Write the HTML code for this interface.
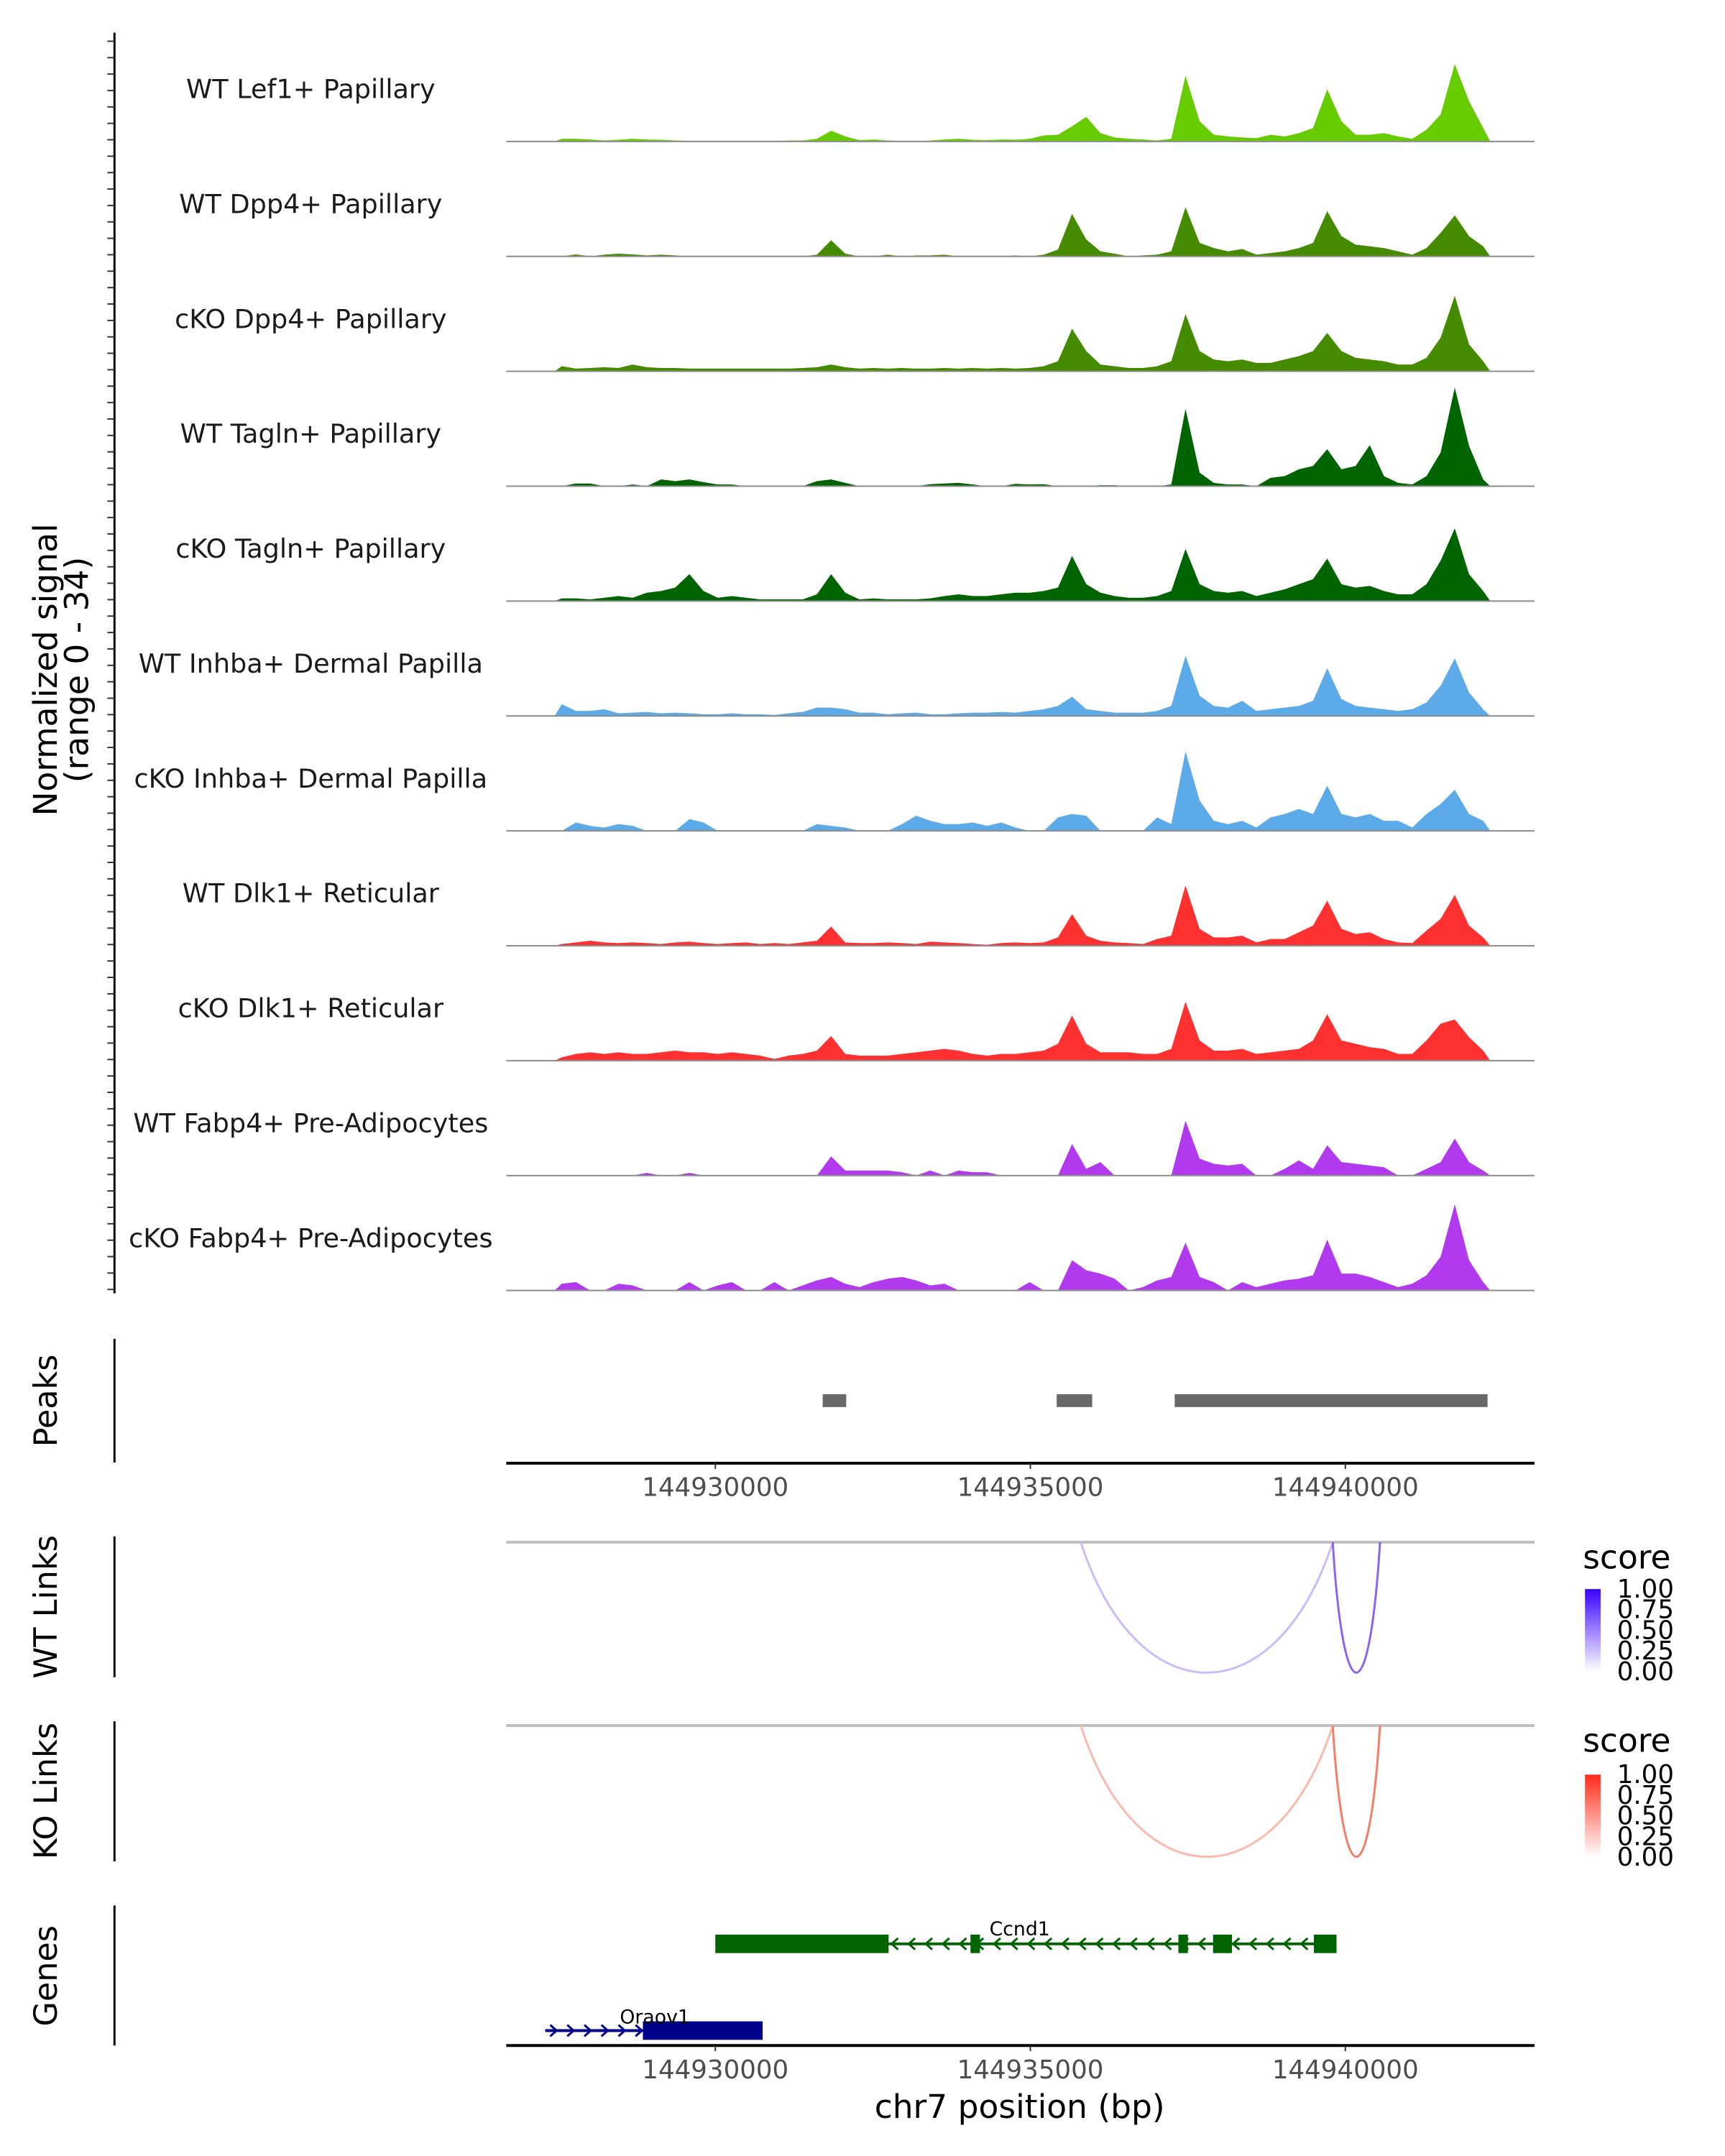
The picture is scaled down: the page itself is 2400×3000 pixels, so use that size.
<!DOCTYPE html>
<html><head><meta charset="utf-8"><style>
html,body{margin:0;padding:0;background:#fff}
svg{display:block}
text{font-family:"DejaVu Sans","Liberation Sans",sans-serif}
</style></head><body>
<svg id="chart" width="2400" height="3000" viewBox="0 0 2400 3000" xmlns="http://www.w3.org/2000/svg">
<g transform="scale(0.98932)">
<g id="tracks"></g>
<line x1="161" y1="46" x2="161" y2="1819" stroke="#000" stroke-width="3"/>
<g id="yticks"></g>
<text transform="translate(80,942) rotate(-90)" text-anchor="middle" font-size="46" fill="#000">Normalized signal</text>
<text transform="translate(124,942) rotate(-90)" text-anchor="middle" font-size="46" fill="#000">(range 0 - 34)</text>

<line x1="161" y1="1883" x2="161" y2="2057" stroke="#000" stroke-width="3"/>
<text transform="translate(80,1970) rotate(-90)" text-anchor="middle" font-size="45">Peaks</text>
<g id="peaks"></g>
<line x1="712" y1="2058" x2="2158" y2="2058" stroke="#000" stroke-width="4"/>
<g id="xt1"></g>

<line x1="161" y1="2161" x2="161" y2="2359" stroke="#000" stroke-width="3"/>
<text transform="translate(80,2260) rotate(-90)" text-anchor="middle" font-size="45">WT Links</text>
<line x1="712" y1="2169" x2="2158" y2="2169" stroke="#bebebe" stroke-width="4"/>
<g id="wtlinks"></g>

<line x1="161" y1="2421" x2="161" y2="2618" stroke="#000" stroke-width="3"/>
<text transform="translate(80,2519) rotate(-90)" text-anchor="middle" font-size="45">KO Links</text>
<line x1="712" y1="2427" x2="2158" y2="2427" stroke="#bebebe" stroke-width="4"/>
<g id="kolinks"></g>

<defs>
<linearGradient id="gwt" x1="0" y1="1" x2="0" y2="0"><stop offset="0" stop-color="#ffffff"/><stop offset="1" stop-color="#3a00ff"/></linearGradient>
<linearGradient id="gko" x1="0" y1="1" x2="0" y2="0"><stop offset="0" stop-color="#ffffff"/><stop offset="1" stop-color="#ff2a1a"/></linearGradient>
</defs>
<g>
<text x="2226" y="2206" font-size="46">score</text>
<rect x="2229" y="2235" width="22" height="116" fill="url(#gwt)"/>
<g font-size="36" fill="#000"><text x="2274" y="2247">1.00</text><text x="2274" y="2276">0.75</text><text x="2274" y="2305">0.50</text><text x="2274" y="2334">0.25</text><text x="2274" y="2363">0.00</text></g>
</g>
<g>
<text x="2226" y="2464" font-size="46">score</text>
<rect x="2229" y="2496" width="22" height="116" fill="url(#gko)"/>
<g font-size="36" fill="#000"><text x="2274" y="2508">1.00</text><text x="2274" y="2537">0.75</text><text x="2274" y="2566">0.50</text><text x="2274" y="2595">0.25</text><text x="2274" y="2624">0.00</text></g>
</g>

<line x1="161" y1="2680" x2="161" y2="2877" stroke="#000" stroke-width="3"/>
<text transform="translate(80,2779) rotate(-90)" text-anchor="middle" font-size="45">Genes</text>
<g id="genes"></g>
<line x1="712" y1="2877" x2="2158" y2="2877" stroke="#000" stroke-width="4"/>
<g id="xt2"></g>
<text x="1434" y="2979" text-anchor="middle" font-size="46">chr7 position (bp)</text>
</g>
</svg>
<script>
const trackNames = ["WT Lef1+ Papillary","WT Dpp4+ Papillary","cKO Dpp4+ Papillary","WT Tagln+ Papillary","cKO Tagln+ Papillary","WT Inhba+ Dermal Papilla","cKO Inhba+ Dermal Papilla","WT Dlk1+ Reticular","cKO Dlk1+ Reticular","WT Fabp4+ Pre-Adipocytes","cKO Fabp4+ Pre-Adipocytes"];
const trackColors = ["#66cc00","#458b00","#458b00","#006400","#006400","#5caae8","#5caae8","#ff3030","#ff3030","#b23aee","#b23aee"];
const binStart = 144927450;
const binSize = 225;
const sigLef1 = [0.8,0.8,0.6,0.3,0.5,0.8,0.6,0.5,0.3,0.2, 0.2,0.1,0,0,0,0.2,0.3,0.3,0.8,3.2, 1.5,0.4,0.6,0.3,0.2,0,0.3,0.6,0.8,0.5, 0.4,0.6,0.5,0.8,1.8,2.0,4.5,7.3,2.5,1.2, 0.8,0.6,0.3,0.8,19.5,6,2,1.5,1.2,1.0, 2,1.5,2.5,4,15.5,6,2,2,2.5,1.5, 0.8,3.5,8,23,12,4];
const sigWtDpp4 = [0,0.6,0,0.5,0.8,0.6,0.3,0.5,0.3,0, 0,0,0,0,0,0,0,0,0.5,4.8, 0.8,0,0,0.5,0,0.3,0.3,0.5,0,0, 0,0,0.3,0,0.5,2,12.6,5,1.5,0.8, 0,0.3,0.5,1.5,14.6,4,2.5,1.5,2.2,0.5, 1,1.5,2.5,4,13.4,6,3.5,3,2.5,1.5, 0.5,2.5,7,12.2,6,3];
const sigKoDpp4 = [1.5,0.8,1,1.2,1,2,1.2,1,1,0.8, 0.8,0.8,0.8,0.8,0.8,0.8,0.8,1,1.2,2, 1.2,0.8,1,0.8,1,0.8,0.8,1,0.8,1, 0.8,1,0.8,1,1.5,3,12.6,6,2,1.5, 1,1,1.5,3,17,6,3.5,3,3.5,2.5, 2.5,3.5,4.5,6,11.4,6,4,3.5,3,2, 2,4,10,22.4,8,3];
const sigWtTagln = [0,0.8,0.8,0,0,0.5,0,2,1.5,2, 1.2,0.5,0.5,0,0,0,0,0,1.5,2, 1,0,0,0,0,0,0.6,0.8,1,0.5, 0,0,0.7,0.5,0.6,0,0,0,0.3,0.3, 0,0,0,0.5,23,4,1,0.5,0.5,0, 2.5,3,5,6,11,5,6,12.2,3,1, 0.5,3,10,29.3,12,2];
const sigKoTagln = [0.8,0.8,0.5,1,1.5,1,2.5,3,4,8, 3,1,1.5,1,0.5,0.5,0.5,0.5,2,8, 2.5,0.5,0.8,0.5,0.5,0.5,0.8,1.5,2,1.5, 1.5,2,2.5,2.5,3,4,13.4,5,2.5,1.5, 1,1,1.5,3,15.5,5,3,2.5,3,1.5, 2.5,3.5,5,6.5,12.6,5,4,4.5,3,2, 2,5,12,21.6,8,3];
const sigWtInhba = [3.5,1.5,1.5,2,0.8,1,1.2,0.8,1,0.8, 0.5,0.5,0.8,0.5,0.5,0.3,0.8,1.2,2.5,2.5, 2,1,1,0.5,0.8,1,0.5,0.5,0.8,1, 1,1.2,1,1.5,2,3,5.7,2,1.5,1, 1,1,1.5,3,17.9,6,3,2.5,4.5,1.5, 2,2.5,3,4.5,14.2,5,3,2.5,2,1.5, 2,4,9,17.1,7,2];
const sigKoInhba = [0,2.5,1.5,1,2,1.5,0,0,0,3.5, 2.5,0,0,0,0,0,0,0,2,1.5, 1,0,0,0,2,4.5,3,2,2,2.5, 1.5,2.5,1,0,0,4,5,4.5,0,0, 0,0,4,2,23.6,9,3,2,3,1, 4,5,6.5,5,13.4,5,4,5,3,3, 1,5,8,12.2,5,3];
const sigWtDlk1 = [0.5,1,1.5,1,0.8,1,0.8,0.5,1,1.2, 0.8,0.5,0.8,1,0.5,0.8,0.5,1,1.5,5.7, 1,0.8,0.8,1,0.8,0.5,1.2,1,0.8,0.5, 0.3,0.8,1,0.8,1,2.5,9.4,3,1.5,1, 0.8,0.5,2,3,17.9,5,2.5,2.5,3,1, 2,2,4,6,13.4,5,3.5,4,2,1, 0.8,4.5,8,15.1,6,2.5];
const sigKoDlk1 = [1,2,2.5,2,2.5,2,2,2.5,3,2.5, 2.5,2,2.5,2,1.5,0.5,1.5,2,3,7.3, 2,1.5,1.5,1.5,2,2.5,3,3.5,3,2, 1.5,2,2,2.5,3,5,13.4,5,2.5,2.5, 2.5,2,2,3.5,17.5,6,3,3,3.5,2, 2.5,3,3.5,6,13.8,6,5,4,3.5,2, 2,6,11,12.2,7,3];
const sigWtFabp4 = [0,0,0,0,0,0,0.8,0,0,0.8, 0,0,0,0,0,0,0,0,0,5.7, 1.5,1.5,1.5,1.5,1,0,1.5,0,1.5,1, 1,0,0,0,0,0,9.4,2,4,0, 0,0,0,0,16.3,5,3.5,3,3.5,0, 0,2,4.5,2,9,4,3.5,3,2.5,0, 0,2,4,11,4,1.5];
const sigKoFabp4 = [2,2.5,0,0,2,1.5,0,0,0,2.5, 0,1.5,2.5,0,0,2.5,0,1.5,3,4, 2,1,2.5,3.5,4,3,1.5,2,0,0, 0,0,0,2.5,0,0,9,6,5,3.5, 0,1,3,4,14.2,4,2.5,0,2.5,1, 2,3,3.5,4.5,15.1,5,5,4,2.5,1, 2,4.5,10,25.6,9,2.5];
const peakStarts = [144931704,144935418,144937291];
const peakEnds = [144932077,144935982,144942257];
const xTicks = [144930000,144935000,144940000];
const wtLinkStarts = [144935800,144939800];
const wtLinkEnds = [144939800,144940550];
const wtLinkScores = [0.35,0.8];
const koLinkStarts = [144935800,144939800];
const koLinkEnds = [144939800,144940550];
const koLinkScores = [0.4,0.75];
const ccnd1Exons = [[144930000,144932750],[144934050,144934200],[144937350,144937500],[144937900,144938200],[144939500,144939860]];
const oraov1Exons = [[144928850,144930750]];

const signals=[sigLef1,sigWtDpp4,sigKoDpp4,sigWtTagln,sigKoTagln,sigWtInhba,sigKoInhba,sigWtDlk1,sigKoDlk1,sigWtFabp4,sigKoFabp4];
const NS="http://www.w3.org/2000/svg";
function X(bp){return 1006+(bp-144930000)*0.0886;}
const yMax=34, trackH=161;
function mk(t,a,p){const e=document.createElementNS(NS,t);for(const k in a)e.setAttribute(k,a[k]);p.appendChild(e);return e;}
const tg=document.getElementById('tracks');
signals.forEach((sig,i)=>{
  const base=199+i*161.6;
  const g=mk('g',{},tg);
  
  
  let d='M'+X(binStart)+','+base;
  sig.forEach((v,j)=>{const x=X(binStart+(j+0.5)*binSize);d+=' L'+x.toFixed(1)+','+(base-v/yMax*trackH).toFixed(1);});
  d+=' L'+X(binStart+sig.length*binSize)+','+base+' Z';
  const p=mk('path',{d:d,fill:trackColors[i]},g);
  
  
  const l=mk('line',{x1:712,x2:2158,y1:base,y2:base,stroke:'#8c8c8c','stroke-width':2},g);
  
  
  const t=mk('text',{x:437,y:base-61,'text-anchor':'middle','font-size':'37',fill:'#1a1a1a'},g);
  t.textContent=trackNames[i];
  
  
});
const yt=document.getElementById('yticks');
for(let y=58;y<1819;y+=23.1){mk('line',{x1:151,x2:161,y1:y,y2:y,stroke:'#333','stroke-width':2},yt);}
const pk=document.getElementById('peaks');
peakStarts.forEach((s,i)=>{const r=mk('rect',{x:X(s),y:1961,width:X(peakEnds[i])-X(s),height:18,fill:'#696969'},pk);
  
  });
function ticks(id,axisY){const g=document.getElementById(id);xTicks.forEach(v=>{mk('line',{x1:X(v),x2:X(v),y1:axisY,y2:axisY+8,stroke:'#333','stroke-width':2},g);
  const t=mk('text',{x:X(v),y:axisY+46,'text-anchor':'middle','font-size':'36',fill:'#4d4d4d'},g);t.textContent=v;
  
  });}
ticks('xt1',2058);ticks('xt2',2877);
function mix(c,s){const r=Math.round(255+(c[0]-255)*s),g=Math.round(255+(c[1]-255)*s),b=Math.round(255+(c[2]-255)*s);return 'rgb('+r+','+g+','+b+')';}
function links(id,starts,ends,scores,top,bottom,col){const g=document.getElementById(id);
  starts.forEach((s,i)=>{const x1=X(s),x2=X(ends[i]),xm=(x1+x2)/2;const depth=bottom-top;
    const p=mk('path',{d:`M${x1},${top} C${x1+(xm-x1)*0.45},${top+depth*1.33} ${x2-(x2-xm)*0.45},${top+depth*1.33} ${x2},${top}`,fill:'none',stroke:mix(col,scores[i]),'stroke-width':3},g);
    
    });}
links('wtlinks',wtLinkStarts,wtLinkEnds,wtLinkScores,2169,2353,[110,60,240]);
links('kolinks',koLinkStarts,koLinkEnds,koLinkScores,2427,2612,[245,80,50]);
const gg=document.getElementById('genes');
function gene(name,exons,lineStart,lineEnd,y,col,dir,labelX,labelY){
  const g=mk('g',{},gg);
  
  
  mk('line',{x1:X(lineStart),x2:X(lineEnd),y1:y,y2:y,stroke:col,'stroke-width':4},g);
  for(let x=X(lineStart)+12;x<X(lineEnd)-8;x+=24){const d=dir<0?`M${x+5},${y-8} L${x-4},${y} L${x+5},${y+8}`:`M${x-5},${y-8} L${x+4},${y} L${x-5},${y+8}`;mk('path',{d:d,fill:'none',stroke:col,'stroke-width':3},g);}
  exons.forEach(e=>mk('rect',{x:X(e[0]),y:y-13,width:Math.max(X(e[1])-X(e[0]),10),height:26,fill:col},g));
  const t=mk('text',{x:labelX,y:labelY,'text-anchor':'middle','font-size':'27',fill:'#000'},g);t.textContent=name;
}
gene('Ccnd1',ccnd1Exons,144930000,144939860,2734,'#006400',-1,1434,2722);
gene('Oraov1',oraov1Exons,144927300,144930750,2856,'#00008b',1,921,2846);
</script>
</body></html>
